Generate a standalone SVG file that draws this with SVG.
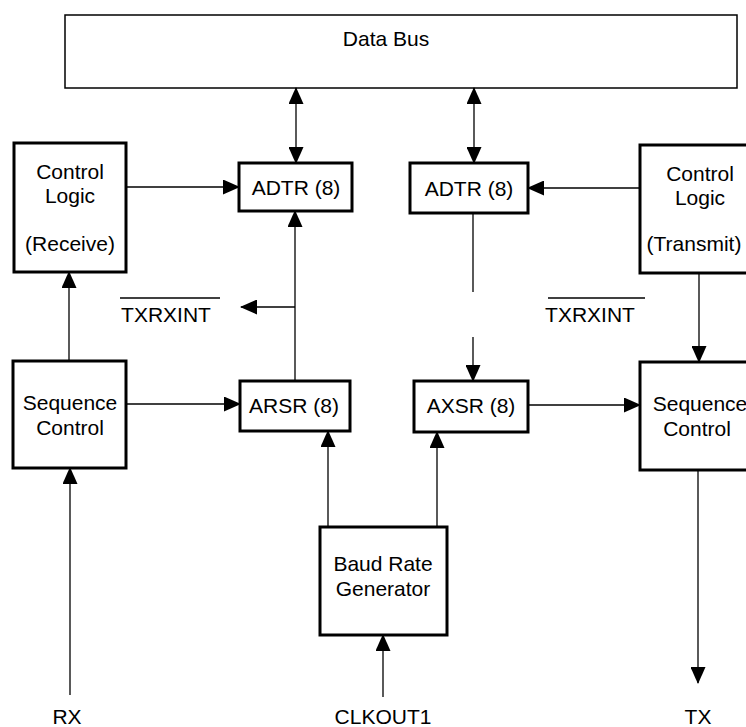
<svg xmlns="http://www.w3.org/2000/svg" width="746" height="727" viewBox="0 0 746 727">
<defs>
<marker id="ah" markerUnits="userSpaceOnUse" markerWidth="17" markerHeight="15" viewBox="0 0 17 15" refX="16" refY="7.5" orient="auto-start-reverse">
<path d="M0,0 L17,7.5 L0,15 Z" fill="#000"/>
</marker>
</defs>
<style>
.box{fill:#fff;stroke:#000;stroke-width:3}
.bus{fill:#fff;stroke:#000;stroke-width:1.5}
.t{font-family:"Liberation Sans",Arial,sans-serif;font-size:21px;fill:#000;text-anchor:middle}
.c{fill:none;stroke:#000;stroke-width:1.3}
.a{marker-end:url(#ah)}
.ol{stroke:#000;stroke-width:1.3}
</style>
<rect width="746" height="727" fill="#fff"/>
<g id="databus">
<rect class="bus" x="65" y="15" width="672" height="73"/>
<text class="t" x="386" y="46">Data Bus</text>
</g>
<g id="ctrl-rx">
<rect class="box" x="14" y="143" width="112" height="129"/>
<text class="t" x="70" y="179">Control</text>
<text class="t" x="70" y="203">Logic</text>
<text class="t" x="70" y="251">(Receive)</text>
</g>
<g id="adtr-rx">
<rect class="box" x="239" y="163" width="113" height="48"/>
<text class="t" x="296" y="195">ADTR (8)</text>
</g>
<g id="adtr-tx">
<rect class="box" x="410" y="163" width="118" height="50"/>
<text class="t" x="469" y="196">ADTR (8)</text>
</g>
<g id="ctrl-tx">
<rect class="box" x="640" y="145" width="120" height="128"/>
<text class="t" x="700" y="181">Control</text>
<text class="t" x="700" y="205">Logic</text>
<text class="t" x="694" y="251">(Transmit)</text>
</g>
<g id="seq-rx">
<rect class="box" x="13" y="361" width="113" height="107"/>
<text class="t" x="70" y="410">Sequence</text>
<text class="t" x="70" y="435">Control</text>
</g>
<g id="arsr">
<rect class="box" x="240" y="381" width="110" height="50"/>
<text class="t" x="294" y="413">ARSR (8)</text>
</g>
<g id="axsr">
<rect class="box" x="414" y="381" width="114" height="51"/>
<text class="t" x="471" y="413">AXSR (8)</text>
</g>
<g id="seq-tx">
<rect class="box" x="640" y="362" width="120" height="108"/>
<text class="t" x="700" y="411">Sequence</text>
<text class="t" x="697" y="436">Control</text>
</g>
<g id="baud">
<rect class="box" x="320" y="527" width="127" height="108"/>
<text class="t" x="383" y="571">Baud Rate</text>
<text class="t" x="383" y="596">Generator</text>
</g>
<g id="labels">
<line class="ol" x1="120" y1="298" x2="220" y2="298"/>
<text class="t" x="166" y="322">TXRXINT</text>
<line class="ol" x1="548" y1="298" x2="645" y2="298"/>
<text class="t" x="590" y="322">TXRXINT</text>
<text class="t" x="67" y="724">RX</text>
<text class="t" x="383" y="724">CLKOUT1</text>
<text class="t" x="698" y="724">TX</text>
</g>
<g id="connectors">
<path class="c a" d="M296,88 L296,163" marker-start="url(#ah)"/>
<path class="c a" d="M474,88 L474,163" marker-start="url(#ah)"/>
<path class="c a" d="M126,187 L239,187"/>
<path class="c a" d="M295,381 L295,211"/>
<path class="c a" d="M295,307 L241,307"/>
<path class="c a" d="M640,188 L528,188"/>
<path class="c" d="M473,213 L473,292"/>
<path class="c a" d="M473,337 L473,381"/>
<path class="c a" d="M699,273 L699,362"/>
<path class="c a" d="M126,404 L240,404"/>
<path class="c a" d="M528,405 L640,405"/>
<path class="c a" d="M69,361 L69,272"/>
<path class="c a" d="M70,695 L70,468"/>
<path class="c a" d="M328,527 L328,431"/>
<path class="c a" d="M437,527 L437,432"/>
<path class="c a" d="M383,697 L383,635"/>
<path class="c a" d="M698,470 L698,683"/>
</g>
</svg>
